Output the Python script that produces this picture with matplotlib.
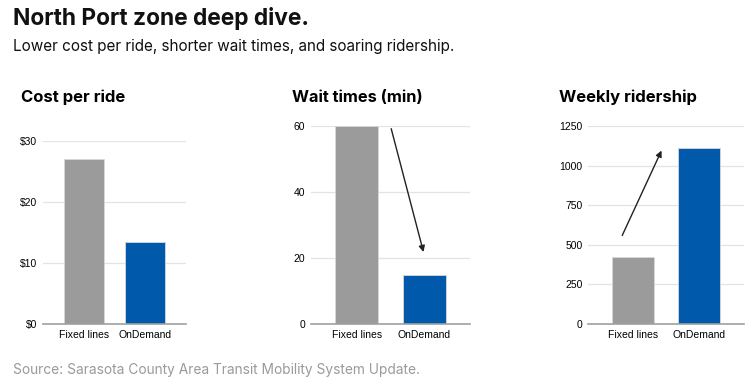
import matplotlib.pyplot as plt

categories = ["Fixed lines", "OnDemand"]
cost = [27, 13.4]
wait = [60, 15]
riders = [423, 1111]
cost_ticks = [0, 10, 20, 30]
cost_labels = ["$0", "$10", "$20", "$30"]
wait_ticks = [0, 20, 40, 60]
rider_ticks = [0, 250, 500, 750, 1000, 1250]
wait_arrow = [(0.5, 60), (1.0, 21)]
rider_arrow = [(-0.18, 543), (0.45, 1111)]

GRAY = "#9b9b9b"
BLUE = "#0059aa"

plt.rcParams["font.family"] = ["Inter", "DejaVu Sans"]

fig = plt.figure(figsize=(7.54, 3.88), dpi=100)
W, H = 754, 388


def px_axes(left, right, top, bottom):
    return fig.add_axes([left / W, 1 - bottom / H, (right - left) / W, (bottom - top) / H])


def style(ax, ticks, labels, top):
    ax.set_ylim(0, top)
    ax.set_xlim(-0.68, 1.68)
    ax.set_yticks(ticks)
    ax.set_yticklabels(labels, fontsize=7.5, family="Liberation Sans")
    ax.set_xticks([0, 1])
    ax.set_xticklabels(categories, fontsize=7.5, family="Liberation Sans")
    ax.tick_params(length=0, pad=4)
    ax.grid(axis="y", color="#e3e3e3", lw=0.9)
    ax.set_axisbelow(True)
    for s in ["top", "right", "left"]:
        ax.spines[s].set_visible(False)
    ax.spines["bottom"].set_color("#a0a0a0")
    ax.spines["bottom"].set_linewidth(1.2)


colors = [GRAY, BLUE]

ax1 = px_axes(43, 186, 141, 324)
ax1.bar([0, 1], cost, width=0.66, color=colors, edgecolor="#d8d8d8", linewidth=0.6)
style(ax1, cost_ticks, cost_labels, 30)

ax2 = px_axes(311, 470, 126, 324)
ax2.bar([0, 1], wait, width=0.64, color=colors, edgecolor="#d8d8d8", linewidth=0.6)
style(ax2, wait_ticks, [str(t) for t in wait_ticks], 60)
ax2.annotate("", xy=wait_arrow[1], xytext=wait_arrow[0],
             arrowprops=dict(arrowstyle="-|>", color="#222222", lw=1, mutation_scale=9))

ax3 = px_axes(588, 744, 126, 324)
ax3.bar([0, 1], riders, width=0.64, color=colors, edgecolor="#d8d8d8", linewidth=0.6)
style(ax3, rider_ticks, [str(t) for t in rider_ticks], 1250)
ax3.annotate("", xy=rider_arrow[1], xytext=rider_arrow[0],
             arrowprops=dict(arrowstyle="-|>", color="#222222", lw=1, mutation_scale=9))

fig.text(13 / W, 1 - 18 / H, "North Port zone deep dive.", fontsize=16.4,
         fontweight="bold", va="center", ha="left", color="#111111")
fig.text(13 / W, 1 - 47 / H, "Lower cost per ride, shorter wait times, and soaring ridership.",
         fontsize=11, va="center", ha="left", color="#111111")
fig.text(21 / W, 1 - 97 / H, "Cost per ride", fontsize=12, fontweight="bold", va="center")
fig.text(292 / W, 1 - 97 / H, "Wait times (min)", fontsize=11.8, fontweight="bold", va="center")
fig.text(559 / W, 1 - 97 / H, "Weekly ridership", fontsize=12, fontweight="bold", va="center")
fig.text(13 / W, 1 - 370 / H, "Source: Sarasota County Area Transit Mobility System Update.",
         fontsize=9.9, color="#9a9a9a", va="center")

fig.savefig("out.png", dpi=100)
